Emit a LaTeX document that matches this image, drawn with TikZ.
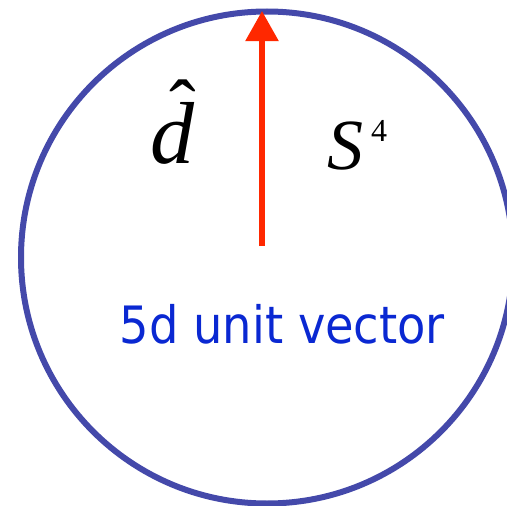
\documentclass[tikz,border=0pt]{standalone}
\usepackage{fontspec}
\setmainfont{Liberation Serif}
\newfontfamily\labelfont{DejaVu Sans Condensed}
\usetikzlibrary{arrows.meta}
\definecolor{ringblue}{RGB}{68,73,170}
\definecolor{arrowred}{RGB}{255,40,0}
\definecolor{textblue}{RGB}{10,40,210}
\tikzset{
  ring/.style={draw=ringblue, line width=6pt},
  vecarrow/.style={draw=arrowred, line width=5.5pt, -{Triangle[width=32pt,length=30pt]}},
  mathlbl/.style={inner sep=0pt, anchor=base, font=\fontsize{88}{88}\selectfont\itshape},
  caption/.style={inner sep=0pt, anchor=base, text=textblue, font=\labelfont\fontsize{51.5}{51.5}\selectfont}
}
\begin{document}
\begin{tikzpicture}[x=1pt,y=-1pt]
\useasboundingbox (0,0) rectangle (507,506);
\begin{scope}
\clip (0,0) rectangle (507,506);
\draw[ring] (267,257.5) circle [radius=246pt];
\end{scope}
\coordinate (tail) at (262,246);
\coordinate (tip) at (262,11);
\draw[vecarrow] (tail) -- (tip);
\node[mathlbl] (d) at (172,163) {d};
\node[inner sep=0pt, anchor=base, font=\fontsize{80}{80}\selectfont] (hat) at (183,135) {ˆ};
\node[mathlbl, font=\fontsize{72}{72}\selectfont\itshape] (S) at (345,169) {S};
\node[inner sep=0pt, anchor=base west, font=\fontsize{32}{32}\selectfont] (four) at (371,141) {4};
\node[caption] (cap) at (282.5,343) {5d unit vector};
\end{tikzpicture}
\end{document}
